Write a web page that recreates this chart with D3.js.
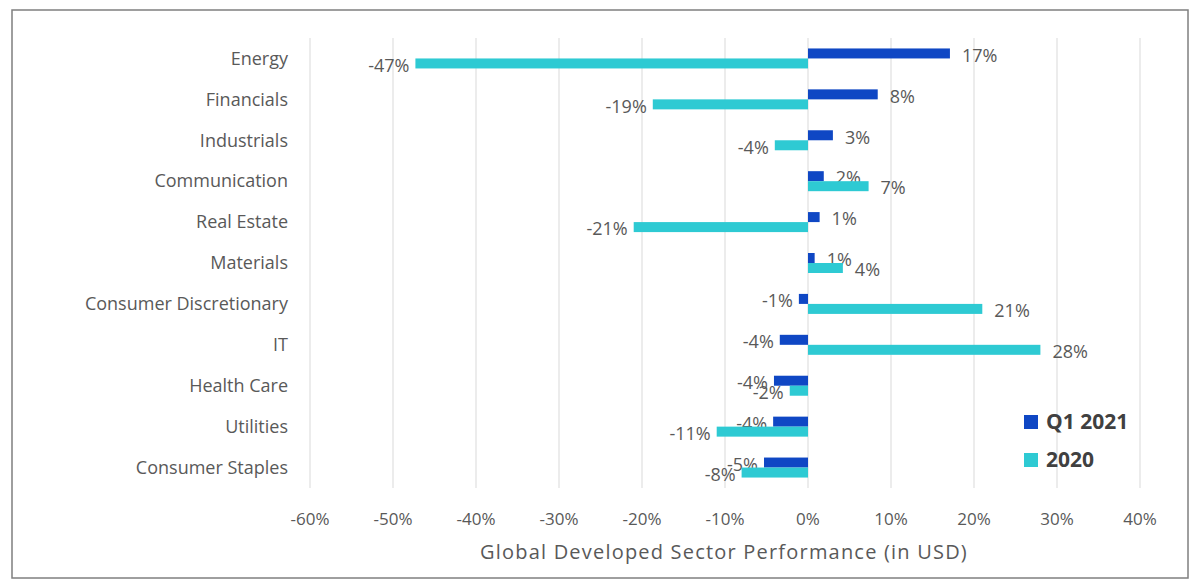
<!DOCTYPE html>
<html><head><meta charset="utf-8">
<script src="https://cdn.jsdelivr.net/npm/d3@7"></script>
<style>body{margin:0;background:#fff}text{font-family:"Open Sans",sans-serif;fill:#595959}</style>
</head><body>
<script>
const categories = ["Energy","Financials","Industrials","Communication","Real Estate","Materials","Consumer Discretionary","IT","Health Care","Utilities","Consumer Staples"];
const q1_2021 = [17.1, 8.4, 3.0, 1.9, 1.4, 0.8, -1.1, -3.4, -4.1, -4.2, -5.3];
const y2020 = [-47.3, -18.7, -4.0, 7.3, -21.0, 4.2, 21.0, 28.0, -2.2, -11.0, -8.0];
const q1Labels = ["17%","8%","3%","2%","1%","1%","-1%","-4%","-4%","-4%","-5%"];
const y2020Labels = ["-47%","-19%","-4%","7%","-21%","4%","21%","28%","-2%","-11%","-8%"];
const ticks = [-60,-50,-40,-30,-20,-10,0,10,20,30,40];

const width = 1200, height = 588;
const svg = d3.select("body").append("svg").attr("width", width).attr("height", height);
svg.append("rect").attr("x", 12).attr("y", 10).attr("width", 1176).attr("height", 568)
  .attr("fill", "none").attr("stroke", "#7f7f7f").attr("stroke-width", 1.5);

const x = d3.scaleLinear().domain([-60, 40]).range([310, 1140]);
const y = d3.scaleBand().domain(categories).range([38, 488]);
const bh = 10;

svg.append("g").selectAll("line").data(ticks).join("line")
  .attr("x1", d => x(d)).attr("x2", d => x(d)).attr("y1", 38).attr("y2", 488)
  .attr("stroke", "#d9d9d9");

svg.append("g").selectAll("text").data(ticks).join("text")
  .attr("x", d => x(d)).attr("y", 525).attr("text-anchor", "middle")
  .attr("font-size", 17).text(d => d + "%");

svg.append("text").attr("x", 724).attr("y", 559).attr("text-anchor", "middle")
  .attr("font-size", 20).attr("letter-spacing", 1.2).text("Global Developed Sector Performance (in USD)");

svg.append("g").selectAll("text").data(categories).join("text")
  .attr("x", 288).attr("y", d => y(d) + y.bandwidth() / 2).attr("dy", "0.35em")
  .attr("text-anchor", "end").attr("font-size", 18).text(d => d);

const series = [
  {vals: q1_2021, labels: q1Labels, color: "#0f47c4", off: -bh},
  {vals: y2020, labels: y2020Labels, color: "#2ecad3", off: 0}
];
series.forEach(s => {
  const g = svg.append("g");
  g.selectAll("rect").data(categories).join("rect")
    .attr("x", (d, i) => x(Math.min(0, s.vals[i])))
    .attr("width", (d, i) => Math.abs(x(s.vals[i]) - x(0)))
    .attr("y", d => y(d) + y.bandwidth() / 2 + s.off)
    .attr("height", bh).attr("fill", s.color);
  g.selectAll("text").data(categories).join("text")
    .attr("x", (d, i) => s.vals[i] >= 0 ? x(s.vals[i]) + 12 : x(s.vals[i]) - 6)
    .attr("y", d => y(d) + y.bandwidth() / 2 + s.off + bh / 2 + 2).attr("dy", "0.35em")
    .attr("text-anchor", (d, i) => s.vals[i] >= 0 ? "start" : "end")
    .attr("font-size", 18).text((d, i) => s.labels[i]);
});

const legend = [["Q1 2021", "#0f47c4"], ["2020", "#2ecad3"]];
const lg = svg.append("g").selectAll("g").data(legend).join("g")
  .attr("transform", (d, i) => `translate(1024,${422 + i * 38})`);
lg.append("rect").attr("x", 0).attr("y", -7).attr("width", 14).attr("height", 14).attr("fill", d => d[1]);
lg.append("text").attr("x", 22).attr("dy", "0.35em").attr("font-size", 21).attr("font-weight", "bold")
  .style("fill", "#404040").text(d => d[0]);
</script>
</body></html>
